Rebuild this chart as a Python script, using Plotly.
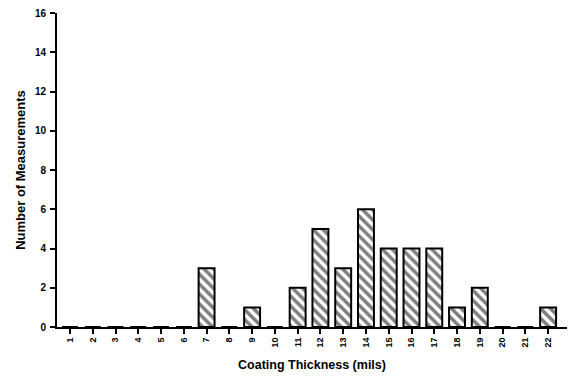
import plotly.graph_objects as go

thickness = list(range(1, 23))
counts = [0, 0, 0, 0, 0, 0, 3, 0, 1, 0, 2, 5, 3, 6, 4, 4, 4, 1, 2, 0, 0, 1]
tick_labels = [str(t) for t in thickness]
y_ticks = [0, 2, 4, 6, 8, 10, 12, 14, 16]

fig = go.Figure(go.Bar(
    x=thickness, y=counts, width=0.7,
    marker=dict(color="white", line=dict(color="black", width=2),
                pattern=dict(shape="\\", fgcolor="black", bgcolor="white", size=7, solidity=0.5)),
))

fig.update_layout(
    width=573, height=388, margin=dict(l=57, r=6, t=13, b=61),
    paper_bgcolor="white", plot_bgcolor="white", showlegend=False,
    font=dict(family="Liberation Sans", size=10, color="black"),
    xaxis=dict(range=[0.43, 22.83], tickvals=thickness, ticktext=tick_labels, tickangle=-90,
               automargin=False,
               showline=True, linecolor="black", linewidth=2, ticks="outside", ticklen=5,
               tickwidth=2, tickcolor="black", showgrid=False, zeroline=False,
               tickfont=dict(family="Liberation Sans", size=9, color="black", weight="bold"),
               title=dict(text="<b>Coating Thickness (mils)</b>", standoff=14,
                          font=dict(family="Liberation Sans", size=12.5, color="black"))),
    yaxis=dict(range=[0, 16], tickvals=y_ticks, showline=True, linecolor="black", linewidth=2,
               automargin=False, ticklabelstandoff=2, ticklabeloverflow="allow",
               ticks="outside", ticklen=5, tickwidth=2, tickcolor="black", showgrid=False,
               zeroline=False,
               tickfont=dict(family="Liberation Sans", size=10, color="black", weight="bold"),
               title=dict(text="<b>Number of Measurements</b>", standoff=6,
                          font=dict(family="Liberation Sans", size=13, color="black"))),
)
fig.write_html("out.html", config={"displayModeBar": False},
               post_script="document.body.style.margin='0';")
